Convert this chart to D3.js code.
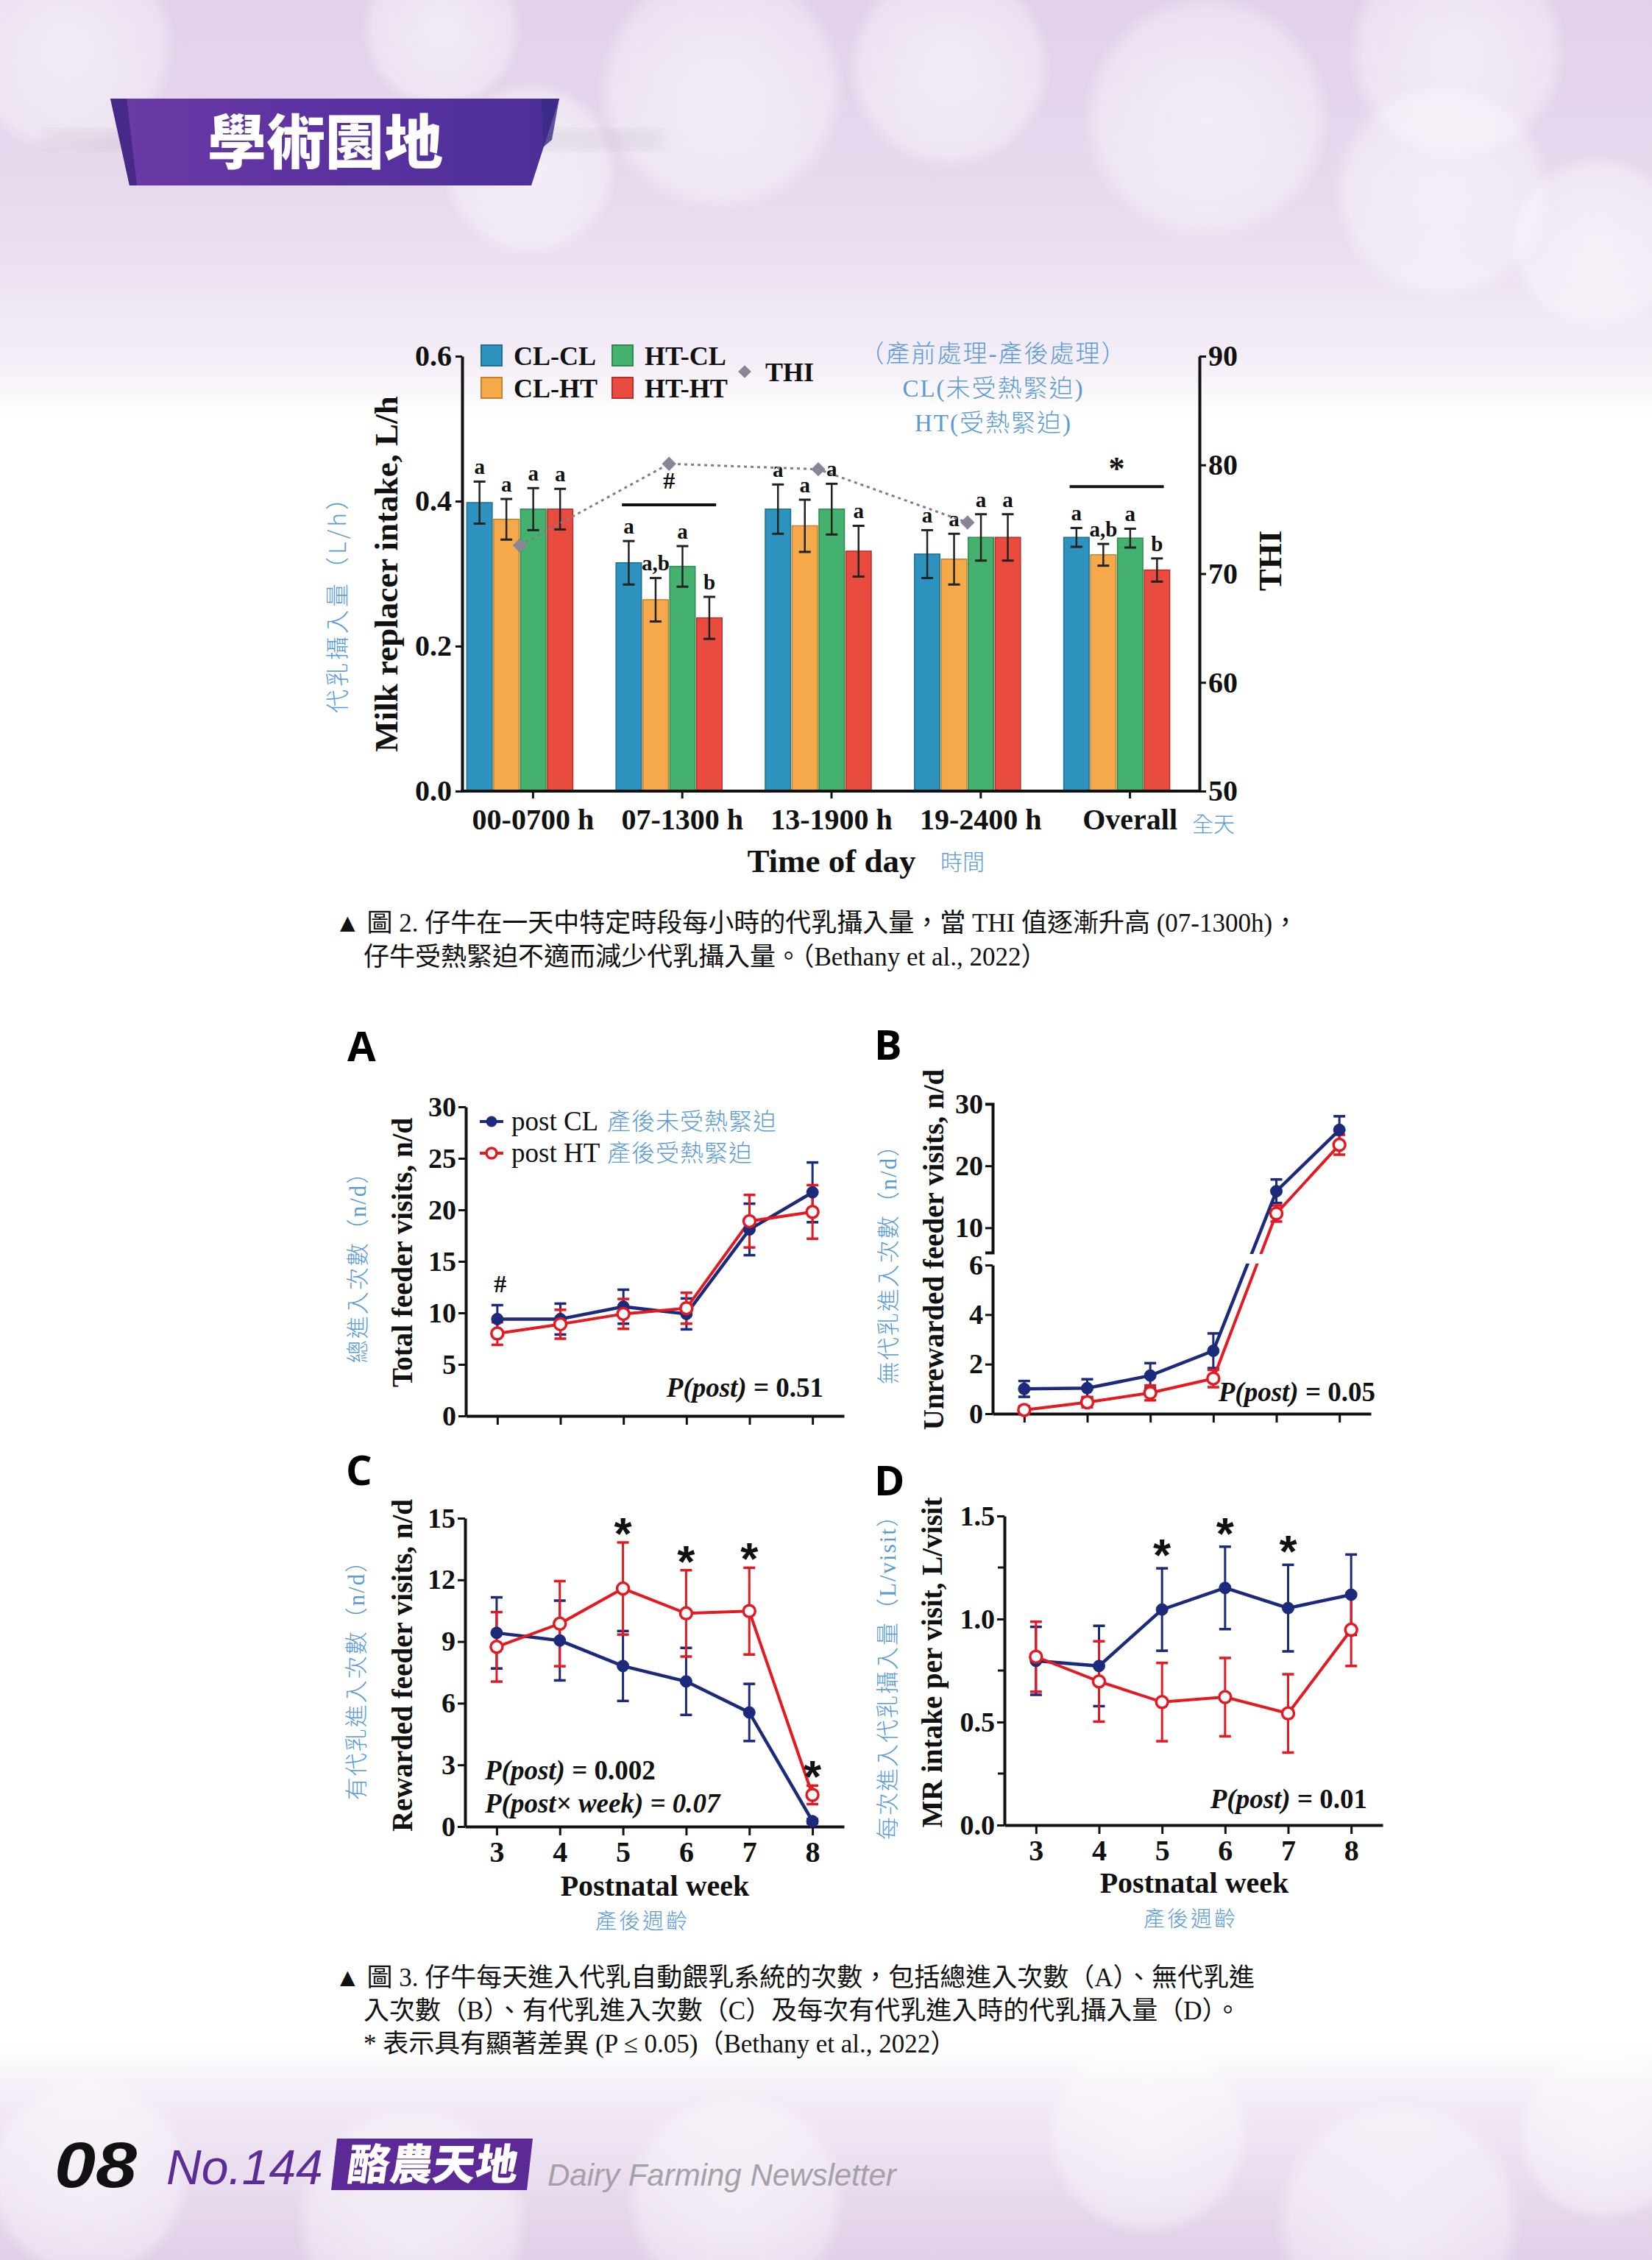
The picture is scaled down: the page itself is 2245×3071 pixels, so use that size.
<!DOCTYPE html>
<html><head><meta charset="utf-8">
<script src="https://cdn.jsdelivr.net/npm/d3@7"></script>
<style>body{margin:0;background:#fff} svg{display:block}</style>
</head><body>
<svg id="page" width="2245" height="3071"></svg>
<script>
// ---------------- DATA ----------------
const barCategories = ["00-0700 h","07-1300 h","13-1900 h","19-2400 h","Overall"];
const barSeries = ["CL-CL","CL-HT","HT-CL","HT-HT"];
const barColors = ["#2e92be","#f5a94b","#44b16f","#e94c3f"];
const barEdge = ["#1f6f92","#c9802a","#2d8a52","#b8302a"];
const valCLCL = [0.398,0.315,0.389,0.327,0.350];
const errCLCL = [0.029,0.030,0.034,0.033,0.013];
const valCLHT = [0.375,0.264,0.366,0.320,0.326];
const errCLHT = [0.028,0.030,0.036,0.035,0.015];
const valHTCL = [0.389,0.310,0.389,0.350,0.349];
const errHTCL = [0.029,0.028,0.035,0.032,0.013];
const valHTHT = [0.389,0.239,0.331,0.350,0.305];
const errHTHT = [0.028,0.029,0.035,0.032,0.016];
const letCLCL = ["a","a","a","a","a"];
const letCLHT = ["a","a,b","a","a","a,b"];
const letHTCL = ["a","a","a","a","a"];
const letHTHT = ["a","b","a","a","b"];
const thiCategories = ["00-0700 h","07-1300 h","13-1900 h","19-2400 h"];
const thiValues = [72.6,80.1,79.6,74.7];
const barLeftTicks = [0,0.2,0.4,0.6];
const barRightTicks = [50,60,70,80,90];

const weeks = [3,4,5,6,7,8];
// A total feeder visits
const totalCL = [9.4,9.4,10.6,9.9,18.1,21.7];
const totalCLerr = [1.35,1.5,1.65,1.5,2.5,2.9];
const totalHT = [8.0,8.9,9.9,10.45,18.9,19.8];
const totalHTerr = [1.1,1.4,1.45,1.5,2.55,2.6];
const ticksA = [0,5,10,15,20,25,30];
// B unrewarded
const unrewCL = [1.0,1.03,1.54,2.54,15.9,25.8];
const unrewCLerr = [0.32,0.36,0.5,0.7,1.9,2.2];
const unrewHT = [0.15,0.46,0.84,1.42,12.3,23.4];
const unrewHTerr = [0.15,0.2,0.3,0.35,1.3,1.6];
const ticksBLow = [0,2,4,6];
const ticksBHigh = [10,20,30];
// C rewarded
const rewCL = [9.42,9.05,7.81,7.06,5.55,0.26];
const rewCLerr = [1.73,1.94,1.7,1.63,1.39,0.1];
const rewHT = [8.74,9.87,11.58,10.37,10.48,1.54];
const rewHTerr = [1.69,2.07,2.24,2.1,2.11,0.45];
const starsC = [false,false,true,true,true,true];
const ticksC = [0,3,6,9,12,15];
// D MR intake per visit
const mrCL = [0.797,0.772,1.046,1.151,1.053,1.118];
const mrCLerr = [0.165,0.195,0.2,0.2,0.21,0.195];
const mrHT = [0.817,0.697,0.597,0.621,0.542,0.948];
const mrHTerr = [0.17,0.195,0.19,0.19,0.19,0.176];
const starsD = [false,false,true,true,true,false];
const ticksD = [0,0.5,1.0,1.5];
const minorTicksD = [0.25,0.75,1.25];

// ---------------- SETUP ----------------
const svg = d3.select("#page");
const W = 2245, H = 3071;
const SERIF = "'Liberation Serif','Times New Roman',serif";
const CJK = "'Noto Sans CJK TC','Noto Sans CJK SC',sans-serif";
const MIX = "'Liberation Serif','Noto Sans CJK TC',serif";
const BLUE = "#5b9bd5";
const NAVY = "#1b2a7a";
const RED = "#e5191f";

const defs = svg.append("defs");
const bg = defs.append("linearGradient").attr("id","bg").attr("x1",0).attr("y1",0).attr("x2",0).attr("y2",1);
[[0,"#e1d0ea"],[0.1,"#e8dcef"],[0.16,"#f4eef7"],[0.185,"#ffffff"],[0.905,"#ffffff"],[0.93,"#f2eaf5"],[1,"#e0cfe8"]]
  .forEach(s=>bg.append("stop").attr("offset",s[0]).attr("stop-color",s[1]));
const bok = defs.append("radialGradient").attr("id","bok");
bok.append("stop").attr("offset",0).attr("stop-color","#ffffff").attr("stop-opacity",0.55);
bok.append("stop").attr("offset",0.85).attr("stop-color","#ffffff").attr("stop-opacity",0.35);
bok.append("stop").attr("offset",1).attr("stop-color","#ffffff").attr("stop-opacity",0);
const rib = defs.append("linearGradient").attr("id","rib").attr("x1",0).attr("y1",0).attr("x2",1).attr("y2",0);
[[0,"#6b3aa6"],[0.5,"#5b32a0"],[1,"#4b2f96"]].forEach(s=>rib.append("stop").attr("offset",s[0]).attr("stop-color",s[1]));
defs.append("filter").attr("id","blur").append("feGaussianBlur").attr("stdDeviation",10);

svg.append("rect").attr("width",W).attr("height",H).attr("fill","url(#bg)");
// decorative bokeh
const bokehTop = [[90,60,150],[600,40,110],[720,230,120],[980,120,170],[1290,90,140],[1640,160,170],[1980,70,150],[2170,330,120],[1960,260,150]];
const bokehBot = [[120,2960,140],[560,3020,160],[1000,2990,150],[1560,2900,140],[1900,3020,170],[2180,2900,120]];
svg.append("g").selectAll("circle").data(bokehTop.concat(bokehBot)).join("circle")
  .attr("cx",d=>d[0]).attr("cy",d=>d[1]).attr("r",d=>d[2]).attr("fill","url(#bok)");

// ---------------- HEADER ----------------
const hdr = svg.append("g");
hdr.append("rect").attr("x",60).attr("y",176).attr("width",840).attr("height",28).attr("fill","#b8b0c0").attr("opacity",0.22).attr("filter","url(#blur)");
hdr.append("path").attr("d","M150,134 L760,134 L722,252 L176,252 Z").attr("fill","url(#rib)");
hdr.append("path").attr("d","M150,134 L172,134 L186,252 L176,252 Z").attr("fill","#3e2580").attr("opacity",0.8);
hdr.append("path").attr("d","M736,134 L760,134 L750,190 L738,200 Z").attr("fill","#3a2a86").attr("opacity",0.8);
hdr.append("text").attr("x",442).attr("y",222).attr("text-anchor","middle")
  .attr("font-family",CJK).attr("font-weight",900).attr("font-size",80).attr("fill","#ffffff")
  .text("學術園地");

// ---------------- BAR CHART ----------------
(function(){
  const g = svg.append("g");
  const axL = 628, axR = 1630, yT = 484, yB = 1075;
  const y = d3.scaleLinear().domain([0,0.6]).range([yB,yT]);
  const yR = d3.scaleLinear().domain([50,90]).range([yB,yT]);
  const x0 = d3.scaleBand().domain(barCategories).range([605,1619]).paddingInner(0.28).paddingOuter(0.14);
  const x1 = d3.scaleBand().domain(barSeries).range([0,x0.bandwidth()]);
  const vals = [valCLCL,valCLHT,valHTCL,valHTHT];
  const errs = [errCLCL,errCLHT,errHTCL,errHTHT];
  const lets = [letCLCL,letCLHT,letHTCL,letHTHT];
  const rows = [];
  barCategories.forEach((c,i)=>barSeries.forEach((s,j)=>rows.push({c,s,j,v:vals[j][i],e:errs[j][i],l:lets[j][i]})));
  const gb = g.append("g");
  gb.selectAll("rect").data(rows).join("rect")
    .attr("x",d=>x0(d.c)+x1(d.s)+1).attr("width",x1.bandwidth()-2)
    .attr("y",d=>y(d.v)).attr("height",d=>y(0)-y(d.v))
    .attr("fill",d=>barColors[d.j]).attr("stroke",d=>barEdge[d.j]).attr("stroke-width",1.5);
  const cx = d=>x0(d.c)+x1(d.s)+x1.bandwidth()/2;
  gb.selectAll("line.eb").data(rows).join("line").attr("class","eb")
    .attr("x1",cx).attr("x2",cx).attr("y1",d=>y(d.v+d.e)).attr("y2",d=>y(d.v-d.e))
    .attr("stroke","#222").attr("stroke-width",2.5);
  gb.selectAll("line.cu").data(rows).join("line").attr("class","cu")
    .attr("x1",d=>cx(d)-8).attr("x2",d=>cx(d)+8).attr("y1",d=>y(d.v+d.e)).attr("y2",d=>y(d.v+d.e))
    .attr("stroke","#222").attr("stroke-width",3);
  gb.selectAll("line.cl").data(rows).join("line").attr("class","cl")
    .attr("x1",d=>cx(d)-8).attr("x2",d=>cx(d)+8).attr("y1",d=>y(d.v-d.e)).attr("y2",d=>y(d.v-d.e))
    .attr("stroke","#222").attr("stroke-width",3);
  gb.selectAll("text.lt").data(rows).join("text").attr("class","lt")
    .attr("x",cx).attr("y",d=>y(d.v+d.e)-10).attr("text-anchor","middle")
    .attr("font-family",SERIF).attr("font-weight","bold").attr("font-size",29).attr("fill","#111")
    .text(d=>d.l);

  // THI line
  const thi = thiCategories.map((c,i)=>({c,v:thiValues[i]}));
  const tx = d=>x0(d.c)+x0.bandwidth()/2;
  g.append("path").datum(thi).attr("fill","none").attr("stroke","#7f7f86").attr("stroke-width",3)
    .attr("stroke-dasharray","4,5").attr("d",d3.line().x(tx).y(d=>yR(d.v)));
  g.selectAll("path.dm").data(thi).join("path").attr("class","dm")
    .attr("transform",d=>`translate(${tx(d)},${yR(d.v)})`)
    .attr("d",d3.symbol(d3.symbolDiamond2,240)).attr("fill","#8a8496");

  // significance marks
  const sig = [{c:"07-1300 h",v:0.395,t:"#"},{c:"Overall",v:0.42,t:"*"}];
  sig.forEach(s=>{
    const a = x0(s.c)+x0.bandwidth()/2;
    g.append("line").attr("x1",a-64).attr("x2",a+64).attr("y1",y(s.v)).attr("y2",y(s.v)).attr("stroke","#111").attr("stroke-width",4);
    g.append("text").attr("x",a).attr("y",y(s.v)-(s.t==="#"?22:10)).attr("text-anchor","middle")
      .attr("font-family",SERIF).attr("font-weight","bold").attr("font-size",s.t==="#"?32:44).attr("fill","#111").text(s.t);
  });

  // axes
  const ax = g.append("g").attr("transform",`translate(${axL},0)`)
    .call(d3.axisLeft(y).tickValues(barLeftTicks).tickFormat(d3.format(".1f")).tickSize(9).tickSizeOuter(0));
  const axr = g.append("g").attr("transform",`translate(${axR},0)`)
    .call(d3.axisRight(yR).tickValues(barRightTicks).tickSize(9).tickSizeOuter(0));
  [ax,axr].forEach(a=>{
    a.select(".domain").attr("stroke","#111").attr("stroke-width",4);
    a.selectAll(".tick line").attr("stroke","#111").attr("stroke-width",3);
    a.selectAll(".tick text").attr("font-family",SERIF).attr("font-weight","bold").attr("font-size",40).attr("fill","#111");
  });
  ax.selectAll(".tick text").attr("dx",-2);
  // x axis
  g.append("line").attr("x1",axL-2).attr("x2",axR+2).attr("y1",yB).attr("y2",yB).attr("stroke","#111").attr("stroke-width",4);
  const lx = c=>x0(c)+x0.bandwidth()/2+18;
  g.selectAll("line.xt").data(barCategories).join("line").attr("class","xt")
    .attr("x1",lx).attr("x2",lx).attr("y1",yB).attr("y2",yB+10).attr("stroke","#111").attr("stroke-width",3);
  g.selectAll("text.xl").data(barCategories).join("text").attr("class","xl")
    .attr("x",lx).attr("y",yB+52).attr("text-anchor","middle")
    .attr("font-family",SERIF).attr("font-weight","bold").attr("font-size",40).attr("fill","#111").text(d=>d);
  g.append("text").attr("x",1620).attr("y",yB+56).attr("font-family",CJK).attr("font-weight",300).attr("font-size",29).attr("fill",BLUE).text("全天");
  g.append("text").attr("x",1130).attr("y",1185).attr("text-anchor","middle")
    .attr("font-family",SERIF).attr("font-weight","bold").attr("font-size",45).attr("fill","#111").text("Time of day");
  g.append("text").attr("x",1278).attr("y",1182).attr("font-family",CJK).attr("font-weight",300).attr("font-size",30).attr("fill",BLUE).text("時間");
  g.append("text").attr("transform","translate(540,780) rotate(-90)").attr("text-anchor","middle")
    .attr("font-family",SERIF).attr("font-weight","bold").attr("font-size",45).attr("fill","#111").text("Milk replacer intake, L/h");
  g.append("text").attr("transform","translate(470,813) rotate(-90)").attr("text-anchor","middle")
    .attr("font-family",CJK).attr("font-weight",300).attr("font-size",32).attr("letter-spacing",4).attr("fill",BLUE).text("代乳攝入量（L/h）");
  g.append("text").attr("transform","translate(1741,762) rotate(-90)").attr("text-anchor","middle")
    .attr("font-family",SERIF).attr("font-weight","bold").attr("font-size",45).attr("fill","#111").text("THI");

  // legend
  const leg = [{s:"CL-CL",j:0,x:654,y:483},{s:"HT-CL",j:2,x:832,y:483},{s:"CL-HT",j:1,x:654,y:527},{s:"HT-HT",j:3,x:832,y:527}];
  const lg = g.append("g");
  lg.selectAll("rect").data(leg).join("rect").attr("x",d=>d.x).attr("y",d=>d.y-14).attr("width",28).attr("height",28)
    .attr("fill",d=>barColors[d.j]).attr("stroke",d=>barEdge[d.j]).attr("stroke-width",2);
  lg.selectAll("text").data(leg).join("text").attr("x",d=>d.x+44).attr("y",d=>d.y+13)
    .attr("font-family",SERIF).attr("font-weight","bold").attr("font-size",36).attr("fill","#111").text(d=>d.s);
  lg.append("path").attr("transform","translate(1012,505)").attr("d",d3.symbol(d3.symbolDiamond2,200)).attr("fill","#8a8496");
  lg.append("text").attr("x",1040).attr("y",518).attr("font-family",SERIF).attr("font-weight","bold").attr("font-size",36).attr("fill","#111").text("THI");

  // blue annotations
  const ann = ["（產前處理-產後處理）","CL(未受熱緊迫)","HT(受熱緊迫)"];
  g.selectAll("text.ann").data(ann).join("text").attr("class","ann")
    .attr("x",1350).attr("y",(d,i)=>492+i*47).attr("text-anchor","middle")
    .attr("font-family",MIX).attr("font-weight",300).attr("font-size",33).attr("letter-spacing",2).attr("fill",BLUE).text(d=>d);
})();

// ---------------- CAPTIONS ----------------
function caption(lines, x0, x1, y0, dy, fs){
  const g = svg.append("g");
  lines.forEach((t,i)=>{
    g.append("text").attr("x",i===0?x0:x1).attr("y",y0+i*dy)
      .attr("font-family",MIX).attr("font-size",fs).attr("fill","#111").text(t);
  });
}
caption(["▲ 圖 2. 仔牛在一天中特定時段每小時的代乳攝入量，當 THI 值逐漸升高 (07-1300h)，",
         "仔牛受熱緊迫不適而減少代乳攝入量。（Bethany et al., 2022）"], 455, 494, 1266, 46, 35);
caption(["▲ 圖 3. 仔牛每天進入代乳自動餵乳系統的次數，包括總進入次數（A）、無代乳進",
         "入次數（B）、有代乳進入次數（C）及每次有代乳進入時的代乳攝入量（D）。",
         "* 表示具有顯著差異 (P ≤ 0.05)（Bethany et al., 2022）"], 455, 494, 2699, 45, 35);

// ---------------- LINE PANELS ----------------
function styleAxis(a, fs){
  a.select(".domain").attr("stroke","#111").attr("stroke-width",4);
  a.selectAll(".tick line").attr("stroke","#111").attr("stroke-width",3);
  a.selectAll(".tick text").attr("font-family",SERIF).attr("font-weight","bold").attr("font-size",fs||38).attr("fill","#111");
}
function drawSeries(g, x, yf, vals, errs, color){
  const pts = weeks.map((w,i)=>({w,v:vals[i],e:errs[i]}));
  g.append("g").selectAll("line").data(pts).join("line")
    .attr("x1",d=>x(d.w)).attr("x2",d=>x(d.w)).attr("y1",d=>yf(d.v+d.e)).attr("y2",d=>yf(Math.max(0,d.v-d.e)))
    .attr("stroke",color).attr("stroke-width",3);
  const caps = [];
  pts.forEach(d=>{caps.push({w:d.w,v:d.v+d.e}); caps.push({w:d.w,v:Math.max(0,d.v-d.e)});});
  g.append("g").selectAll("line").data(caps).join("line")
    .attr("x1",d=>x(d.w)-8).attr("x2",d=>x(d.w)+8).attr("y1",d=>yf(d.v)).attr("y2",d=>yf(d.v))
    .attr("stroke",color).attr("stroke-width",3.5);
  return pts;
}
function drawMarkers(g, x, yf, pts, color, open){
  g.append("g").selectAll("circle").data(pts).join("circle")
    .attr("cx",d=>x(d.w)).attr("cy",d=>yf(d.v)).attr("r",8)
    .attr("fill",open?"#fff":color).attr("stroke",color).attr("stroke-width",open?3.5:1);
}
function yLabels(g, en, enX, cn, cnX, cy){
  g.append("text").attr("transform",`translate(${enX},${cy}) rotate(-90)`).attr("text-anchor","middle")
    .attr("font-family",SERIF).attr("font-weight","bold").attr("font-size",39).attr("fill","#111").text(en);
  g.append("text").attr("transform",`translate(${cnX},${cy+12}) rotate(-90)`).attr("text-anchor","middle")
    .attr("font-family",MIX).attr("font-weight",300).attr("font-size",31).attr("letter-spacing",2).attr("fill",BLUE).text(cn);
}
function panelLetter(t, x, y){
  svg.append("text").attr("x",x).attr("y",y).attr("font-family","'Open Sans',sans-serif").attr("font-weight",700)
    .attr("font-size",56).attr("fill","#000").text(t);
}
function xAxisWeeks(g, x, yB, labels){
  const a = g.append("g").attr("transform",`translate(0,${yB})`)
    .call(d3.axisBottom(x).tickValues(weeks).tickSize(12).tickSizeOuter(0).tickFormat(labels?d3.format("d"):""));
  styleAxis(a, 40);
  a.selectAll(".tick text").attr("dy","0.82em");
}
function pText(g, x, y, anchor, parts){
  const t = g.append("text").attr("x",x).attr("y",y).attr("text-anchor",anchor)
    .attr("font-family",SERIF).attr("font-weight","bold").attr("font-size",37).attr("fill","#111");
  parts.forEach(p=>t.append("tspan").attr("font-style",p[1]?"italic":"normal").text(p[0]));
}
function stars(g, x, yf, flags, topA, topB, off){
  const s = weeks.map((w,i)=>({w,f:flags[i],t:Math.max(topA[i],topB[i])})).filter(d=>d.f);
  g.selectAll("text.star").data(s).join("text").attr("class","star")
    .attr("x",d=>x(d.w)).attr("y",d=>yf(d.t)-off+35).attr("text-anchor","middle")
    .attr("font-family","'Liberation Sans',sans-serif").attr("font-weight","bold").attr("font-size",62).attr("fill","#111").text("*");
}
function weekTitles(g, cx, yEn, cxCn, yCn){
  g.append("text").attr("x",cx).attr("y",yEn).attr("text-anchor","middle").attr("font-family",SERIF).attr("font-weight","bold").attr("font-size",40).attr("fill","#111").text("Postnatal week");
  g.append("text").attr("x",cxCn).attr("y",yCn).attr("text-anchor","middle").attr("font-family",CJK).attr("font-weight",300).attr("font-size",29).attr("letter-spacing",3).attr("fill",BLUE).text("產後週齡");
}

// Panel A
(function(){
  const g = svg.append("g");
  panelLetter("A",472,1442);
  const x = d3.scaleLinear().domain([2.5,8.5]).range([633,1147]);
  const y = d3.scaleLinear().domain([0,30]).range([1924,1504]);
  xAxisWeeks(g, x, 1924, false);
  const a = g.append("g").attr("transform","translate(633,0)").call(d3.axisLeft(y).tickValues(ticksA).tickSize(10).tickSizeOuter(0));
  styleAxis(a);
  const p1 = drawSeries(g,x,y,totalCL,totalCLerr,NAVY);
  const p2 = drawSeries(g,x,y,totalHT,totalHTerr,RED);
  g.append("path").datum(p1).attr("fill","none").attr("stroke",NAVY).attr("stroke-width",4.5).attr("d",d3.line().x(d=>x(d.w)).y(d=>y(d.v)));
  g.append("path").datum(p2).attr("fill","none").attr("stroke",RED).attr("stroke-width",4).attr("d",d3.line().x(d=>x(d.w)).y(d=>y(d.v)));
  drawMarkers(g,x,y,p1,NAVY,false);
  drawMarkers(g,x,y,p2,RED,true);
  g.append("text").attr("x",x(3)+4).attr("y",y(totalCL[0]+totalCLerr[0])-18).attr("text-anchor","middle")
    .attr("font-family",SERIF).attr("font-weight","bold").attr("font-size",34).attr("fill","#111").text("#");
  yLabels(g,"Total feeder visits, n/d",560,"總進入次數（n/d）",497,1702);
  pText(g,1119,1898,"end",[["P(post)",true],[" = 0.51",false]]);
  // legend
  const lg = [{t:"post CL",c:"產後未受熱緊迫",col:NAVY,open:false,y:1524},{t:"post HT",c:"產後受熱緊迫",col:RED,open:true,y:1567}];
  lg.forEach(d=>{
    g.append("line").attr("x1",652).attr("x2",684).attr("y1",d.y).attr("y2",d.y).attr("stroke",d.col).attr("stroke-width",4);
    g.append("circle").attr("cx",668).attr("cy",d.y).attr("r",7).attr("fill",d.open?"#fff":d.col).attr("stroke",d.col).attr("stroke-width",d.open?3.5:1);
    g.append("text").attr("x",695).attr("y",d.y+12).attr("font-family",SERIF).attr("font-size",37).attr("fill","#111").text(d.t);
    g.append("text").attr("x",825).attr("y",d.y+11).attr("font-family",CJK).attr("font-weight",300).attr("font-size",32).attr("letter-spacing",1).attr("fill",BLUE).text(d.c);
  });
})();

// Panel B (broken axis)
(function(){
  const g = svg.append("g");
  panelLetter("B",1188,1440);
  const x = d3.scaleLinear().domain([2.5,8.5]).range([1349,1863]);
  const yLo = d3.scaleLinear().domain([0,6]).range([1921,1719]);
  const yHi = d3.scaleLinear().domain([6,30]).range([1702,1500]);
  const yf = v => v < 6 ? yLo(v) : yHi(v);
  xAxisWeeks(g, x, 1921, false);
  const a1 = g.append("g").attr("transform","translate(1349,0)").call(d3.axisLeft(yLo).tickValues(ticksBLow).tickFormat(d3.format("d")).tickSize(10).tickSizeOuter(0));
  const a2 = g.append("g").attr("transform","translate(1349,0)").call(d3.axisLeft(yHi).tickValues(ticksBHigh).tickFormat(d3.format("d")).tickSize(10).tickSizeOuter(10));
  styleAxis(a1); styleAxis(a2);
  const p1 = drawSeries(g,x,yf,unrewCL,unrewCLerr,NAVY);
  const p2 = drawSeries(g,x,yf,unrewHT,unrewHTerr,RED);
  const ln = d3.line().x(d=>x(d.w)).y(d=>yf(d.v));
  g.append("path").datum(p1).attr("fill","none").attr("stroke",NAVY).attr("stroke-width",4.5).attr("d",ln);
  g.append("path").datum(p2).attr("fill","none").attr("stroke",RED).attr("stroke-width",4).attr("d",ln);
  // gap for axis break
  g.append("rect").attr("x",1360).attr("y",yHi(6)+2).attr("width",500).attr("height",yLo(6)-yHi(6)-4).attr("fill","#fff");
  drawMarkers(g,x,yf,p1,NAVY,false);
  drawMarkers(g,x,yf,p2,RED,true);
  yLabels(g,"Unrewarded feeder visits, n/d",1282,"無代乳進入次數（n/d）",1218,1698);
  pText(g,1869,1904,"end",[["P(post)",true],[" = 0.05",false]]);
})();

// Panel C
(function(){
  const g = svg.append("g");
  panelLetter("C",470,2018);
  const x = d3.scaleLinear().domain([2.5,8.5]).range([632,1147]);
  const y = d3.scaleLinear().domain([0,15]).range([2482,2063]);
  xAxisWeeks(g, x, 2482, true);
  const a = g.append("g").attr("transform","translate(632,0)").call(d3.axisLeft(y).tickValues(ticksC).tickSize(10).tickSizeOuter(0));
  styleAxis(a);
  const p1 = drawSeries(g,x,y,rewCL,rewCLerr,NAVY);
  const p2 = drawSeries(g,x,y,rewHT,rewHTerr,RED);
  const ln = d3.line().x(d=>x(d.w)).y(d=>y(d.v));
  g.append("path").datum(p1).attr("fill","none").attr("stroke",NAVY).attr("stroke-width",4.5).attr("d",ln);
  g.append("path").datum(p2).attr("fill","none").attr("stroke",RED).attr("stroke-width",4).attr("d",ln);
  drawMarkers(g,x,y,p1,NAVY,false);
  drawMarkers(g,x,y,p2,RED,true);
  stars(g,x,y,starsC,rewCL.map((v,i)=>v+rewCLerr[i]),rewHT.map((v,i)=>v+rewHTerr[i]),26);
  yLabels(g,"Rewarded feeder visits, n/d",560,"有代乳進入次數（n/d）",495,2263);
  pText(g,659,2418,"start",[["P(post)",true],[" = 0.002",false]]);
  pText(g,659,2463,"start",[["P(post× week) = 0.07",true]]);
  weekTitles(g, 890, 2576, 873, 2621);
})();

// Panel D
(function(){
  const g = svg.append("g");
  panelLetter("D",1188,2032);
  const x = d3.scaleLinear().domain([2.5,8.5]).range([1365,1879]);
  const y = d3.scaleLinear().domain([0,1.5]).range([2480,2060]);
  xAxisWeeks(g, x, 2480, true);
  const a = g.append("g").attr("transform","translate(1365,0)").call(d3.axisLeft(y).tickValues(ticksD).tickFormat(d3.format(".1f")).tickSize(10).tickSizeOuter(0));
  styleAxis(a);
  g.append("g").selectAll("line").data(minorTicksD).join("line")
    .attr("x1",1356).attr("x2",1365).attr("y1",d=>y(d)).attr("y2",d=>y(d)).attr("stroke","#111").attr("stroke-width",3);
  const p1 = drawSeries(g,x,y,mrCL,mrCLerr,NAVY);
  const p2 = drawSeries(g,x,y,mrHT,mrHTerr,RED);
  const ln = d3.line().x(d=>x(d.w)).y(d=>y(d.v));
  g.append("path").datum(p1).attr("fill","none").attr("stroke",NAVY).attr("stroke-width",4.5).attr("d",ln);
  g.append("path").datum(p2).attr("fill","none").attr("stroke",RED).attr("stroke-width",4).attr("d",ln);
  drawMarkers(g,x,y,p1,NAVY,false);
  drawMarkers(g,x,y,p2,RED,true);
  stars(g,x,y,starsD,mrCL.map((v,i)=>v+mrCLerr[i]),mrHT.map((v,i)=>v+mrHTerr[i]),32);
  yLabels(g,"MR intake per visit, L/visit",1280,"每次進入代乳攝入量（L/visit）",1217,2259);
  pText(g,1858,2457,"end",[["P(post)",true],[" = 0.01",false]]);
  weekTitles(g, 1623, 2572, 1618, 2618);
})();

// ---------------- FOOTER ----------------
(function(){
  const g = svg.append("g");
  g.append("text").attr("x",74).attr("y",2972).attr("font-family","'Liberation Sans',sans-serif").attr("font-weight","bold")
    .attr("font-style","italic").attr("font-size",88).attr("textLength",112).attr("lengthAdjust","spacingAndGlyphs").attr("fill","#111").text("08");
  g.append("text").attr("x",226).attr("y",2968).attr("font-family","'Liberation Sans',sans-serif").attr("font-style","italic")
    .attr("font-size",66).attr("fill","#5b2d95").text("No.144");
  g.append("path").attr("d","M458,2906 L724,2906 L716,2976 L450,2976 Z").attr("fill","#5c2a96");
  g.append("text").attr("x",587).attr("y",2962).attr("text-anchor","middle").attr("font-family",CJK).attr("font-weight",900)
    .attr("font-size",58).attr("fill","#fff").attr("transform","skewX(-8) translate(415,0)").text("酪農天地");
  g.append("text").attr("x",744).attr("y",2970).attr("font-family","'Liberation Sans',sans-serif").attr("font-style","italic")
    .attr("font-size",42).attr("fill","#a3a0a6").text("Dairy Farming Newsletter");
})();
</script>
</body></html>
